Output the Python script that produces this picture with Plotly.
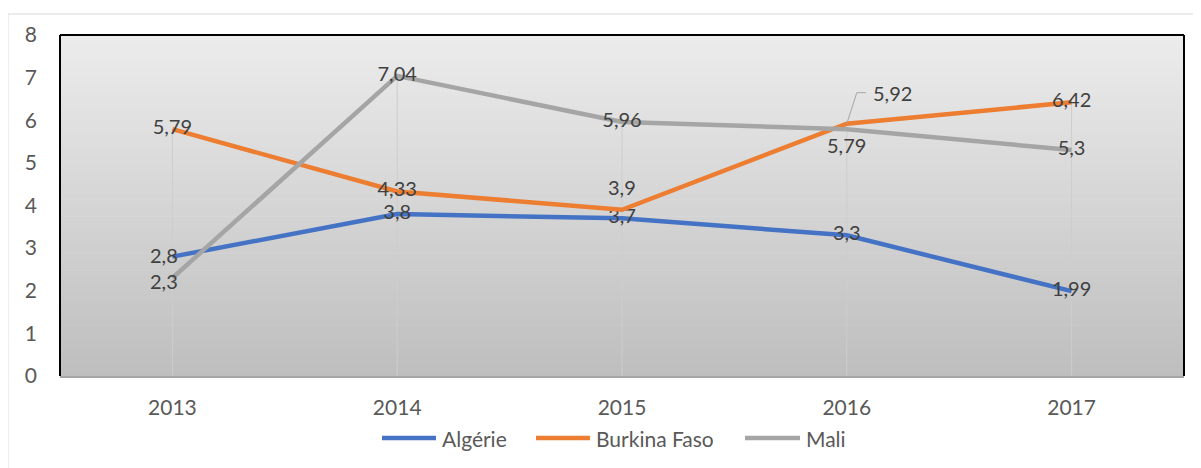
import plotly.graph_objects as go

years = ["2013", "2014", "2015", "2016", "2017"]
series_names = ["Algérie", "Burkina Faso", "Mali"]
algerie = [2.8, 3.8, 3.7, 3.3, 1.99]
burkina = [5.79, 4.33, 3.9, 5.92, 6.42]
mali = [2.3, 7.04, 5.96, 5.79, 5.3]
colors = ["#4472C4", "#ED7D31", "#A5A5A5"]

FONT = "Lato, 'Liberation Sans', sans-serif"
TXT = "#404040"
AX = "#595959"

def fmt(v):
    return f"{v:g}".replace(".", ",")

xs = list(range(len(years)))
fig = go.Figure()

# drop lines from the highest point to the axis
for i in xs:
    top = max(algerie[i], burkina[i], mali[i])
    fig.add_trace(go.Scatter(x=[i, i], y=[0, top], mode="lines",
                             line=dict(color="#cdcdcd", width=1),
                             showlegend=False, hoverinfo="skip"))

# labels that are not centred on their point: (series, index) -> (xshift, yshift)
label_shift = {("Burkina Faso", 2): (0, 23), ("Mali", 3): (0, -16),
               ("Algérie", 0): (-8, 2), ("Mali", 0): (-8, -3)}

all_series = [algerie, burkina, mali]
annotations = []
for name, vals, col in zip(series_names, all_series, colors):
    texts = [fmt(v) for v in vals]
    for i in xs:
        if (name, i) in label_shift:
            dx, dy = label_shift[(name, i)]
            annotations.append(dict(x=i, y=vals[i], xref="x", yref="y", text=texts[i],
                                    showarrow=False, xshift=dx, yshift=dy,
                                    font=dict(family=FONT, size=20, color=TXT)))
            texts[i] = ""
    if name == "Burkina Faso":
        texts[3] = ""
    fig.add_trace(go.Scatter(
        x=xs, y=vals, name=name, mode="lines+text",
        line=dict(color=col, width=4.5),
        text=texts, textposition="middle center",
        textfont=dict(family=FONT, size=20, color=TXT),
        cliponaxis=False, showlegend=False,
    ))

shapes = []
# vertical gradient background in the plot area
n = 120
top_c, bot_c = 236, 190
for k in range(n):
    c = round(bot_c + (top_c - bot_c) * (k + 0.5) / n)
    shapes.append(dict(type="rect", xref="x domain", yref="y domain",
                       x0=0, x1=1, y0=k / n, y1=(k + 1) / n + 0.002,
                       fillcolor=f"rgb({c},{c},{c})", line=dict(width=0),
                       layer="below"))
# black frame on left, top, right
for (x0, y0, x1, y1) in [(0, 0, 0, 1), (0, 1, 1, 1), (1, 0, 1, 1)]:
    shapes.append(dict(type="line", xref="x domain", yref="y domain",
                       x0=x0, y0=y0, x1=x1, y1=y1,
                       line=dict(color="black", width=2), layer="above"))
# outer chart border
shapes.append(dict(type="rect", xref="paper", yref="paper",
                   x0=-0.0463, x1=1.02, y0=-0.4, y1=1.0616,
                   line=dict(color="#d9d9d9", width=1), fillcolor="rgba(0,0,0,0)",
                   layer="below"))
# leader line for Burkina Faso 2016 label
shapes.append(dict(type="path", xsizemode="pixel", ysizemode="pixel",
                   xref="x", yref="y", xanchor=3, yanchor=burkina[3],
                   path="M0,0 L10,31 L19,31",
                   line=dict(color="#a6a6a6", width=1)))
annotations.append(dict(x=3, y=burkina[3], xref="x", yref="y", text=fmt(burkina[3]),
                        showarrow=False, xanchor="left", yanchor="middle",
                        xshift=24, yshift=31,
                        font=dict(family=FONT, size=20, color=TXT)))

# legend drawn below the plot (line sample + name)
legend_y = -0.182
legend_line_x = [(0.2865, 0.3345), (0.4235, 0.4715), (0.6094, 0.6584)]
for name, col, (lx0, lx1) in zip(series_names, colors, legend_line_x):
    shapes.append(dict(type="line", xref="paper", yref="paper",
                       x0=lx0, x1=lx1, y0=legend_y, y1=legend_y,
                       line=dict(color=col, width=4.5)))
    annotations.append(dict(x=lx1 + 0.0035, y=legend_y, xref="paper", yref="paper",
                            text=name, showarrow=False, xanchor="left",
                            yanchor="middle",
                            font=dict(family=FONT, size=21, color=AX)))

fig.update_layout(
    width=1193, height=460,
    margin=dict(l=52, r=17, t=27, b=92),
    paper_bgcolor="white", plot_bgcolor="rgba(0,0,0,0)",
    font=dict(family=FONT, color=AX, size=21),
    shapes=shapes, annotations=annotations,
    showlegend=False,
    xaxis=dict(range=[-0.5, 4.5], tickvals=xs, ticktext=years, showgrid=False,
               zeroline=False, showline=True, linecolor="#a6a6a6", linewidth=1.5,
               ticks="", ticklabelstandoff=12, fixedrange=True),
    yaxis=dict(range=[0, 8], dtick=1, showgrid=False, zeroline=False,
               showline=False, ticks="", ticklabelstandoff=22, fixedrange=True),
)

fig.write_html("out.html")
